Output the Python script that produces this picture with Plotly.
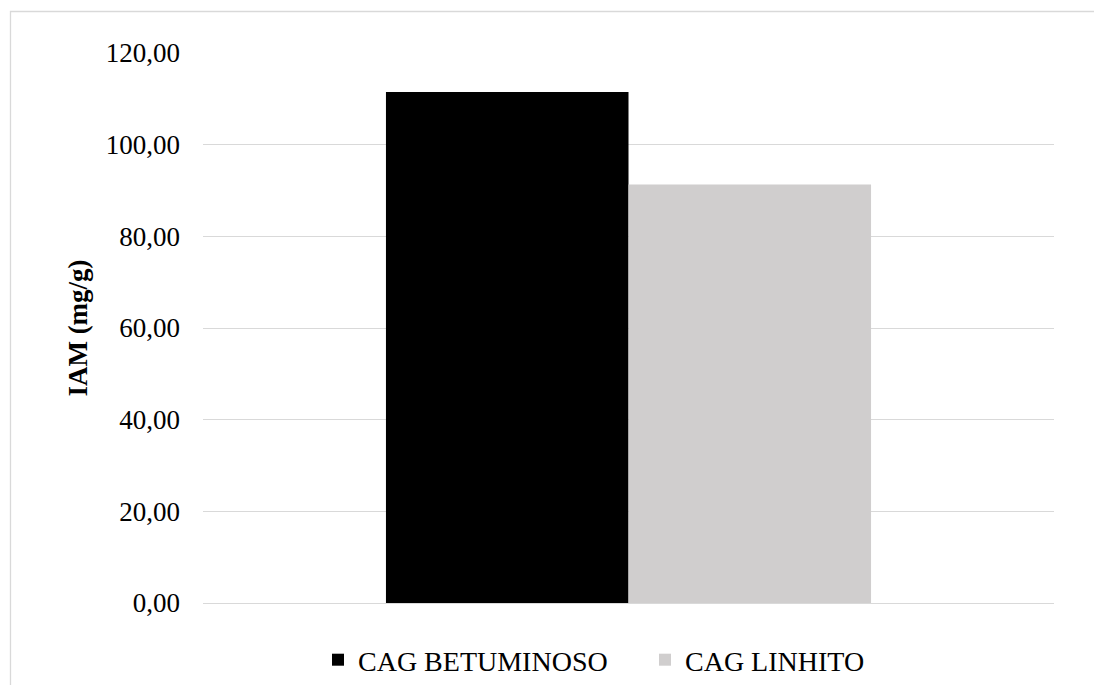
import plotly.graph_objects as go

categories = ["IAM"]
series_names = ["CAG BETUMINOSO", "CAG LINHITO"]
betuminoso = [111.5]
linhito = [91.3]
colors = ["#000000", "#d0cece"]

FONT = "Liberation Serif, Times New Roman, serif"

fig = go.Figure()
for name, vals, col in zip(series_names, [betuminoso, linhito], colors):
    fig.add_trace(go.Bar(x=categories, y=vals, name=name, marker=dict(color=col, line=dict(width=0))))

L, R, T, B = 203, 40, 53, 82
W, H = 1094, 685
pw, ph = W - L - R, H - T - B

fig.update_layout(
    width=W, height=H,
    margin=dict(l=L, r=R, t=T, b=B, pad=0, autoexpand=False),
    paper_bgcolor="white", plot_bgcolor="white",
    barmode="group", bargap=0.43, bargroupgap=0,
    separators=",.",
    font=dict(family=FONT, size=27, color="#000000"),
    showlegend=True,
    legend=dict(orientation="h", xref="container", yref="container",
                x=318 / W, xanchor="left",
                y=(H - 660) / H, yanchor="middle",
                entrywidth=282, entrywidthmode="pixels",
                font=dict(family=FONT, size=28, color="#000000"),
                bgcolor="rgba(0,0,0,0)", borderwidth=0),
    xaxis=dict(type="category", range=[-0.5, 0.5], showticklabels=False, showgrid=False,
               zeroline=False, showline=False, ticks=""),
    yaxis=dict(range=[0, 120], dtick=20, tickformat=".2f", showgrid=True,
               gridcolor="#d9d9d9", gridwidth=1.3, zeroline=True, zerolinecolor="#d9d9d9",
               zerolinewidth=1.3, showline=False, ticks="", ticklabelstandoff=22,
               tickfont=dict(family=FONT, size=27, color="#000000"),
               title=dict(text="<b>IAM (mg/g)</b>", standoff=10,
                          font=dict(family=FONT, size=27, color="#000000"))),
)

# chart-area border (extends past the picture edges on right and bottom)
fig.add_shape(type="rect", xref="paper", yref="paper",
              x0=(10.5 - L) / pw, x1=(1110 - L) / pw,
              y0=(T + ph - 700) / ph, y1=(T + ph - 11.5) / ph,
              line=dict(color="#d9d9d9", width=1.3), fillcolor="rgba(0,0,0,0)", layer="below")

fig.write_html("out.html")
